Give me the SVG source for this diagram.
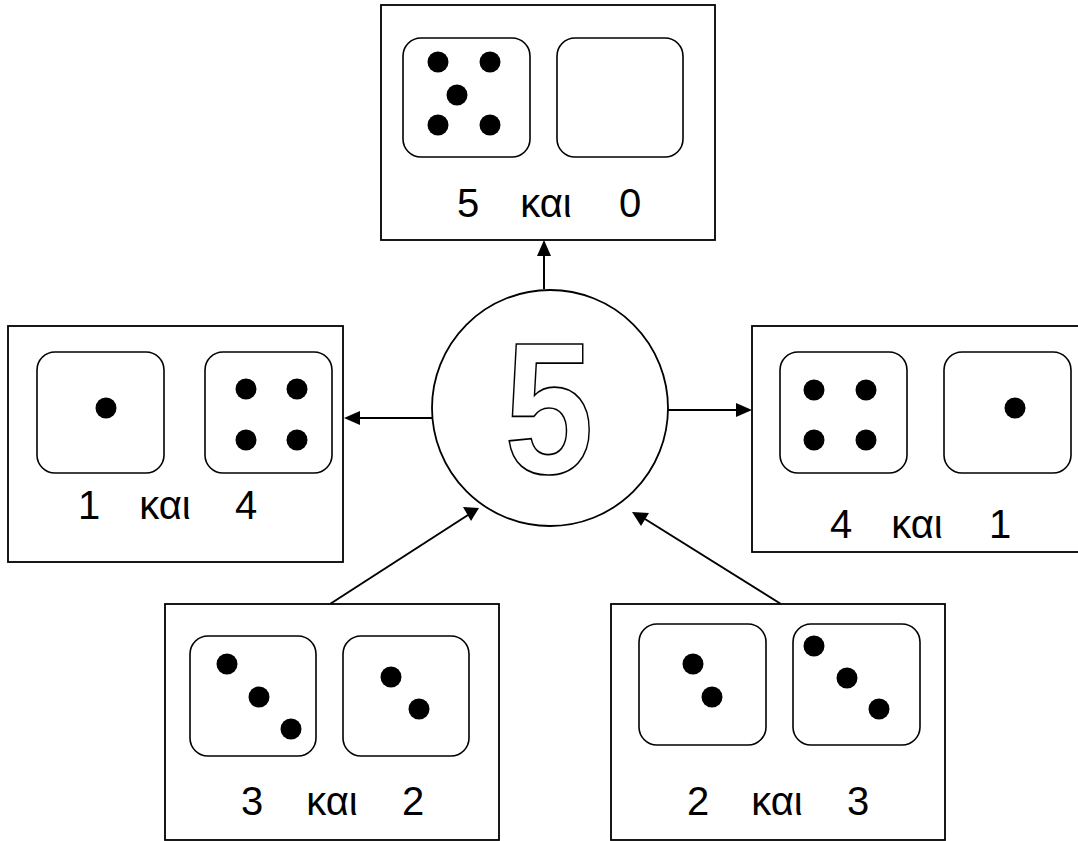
<svg xmlns="http://www.w3.org/2000/svg" width="1078" height="841" viewBox="0 0 1078 841">
<defs>
<style>
.box{fill:#fff;stroke:#000;stroke-width:1.8}
.die{fill:#fff;stroke:#000;stroke-width:1.6}
.dot{fill:#000}
.lbl{font-family:"Comic Sans MS","Liberation Sans","DejaVu Sans",sans-serif;font-size:40px;fill:#000;text-anchor:middle}
.con{stroke:#000;stroke-width:2;fill:none;marker-end:url(#ah)}
</style>
<marker id="ah" viewBox="0 0 10 10" refX="10" refY="5" markerWidth="7" markerHeight="7" markerUnits="userSpaceOnUse" orient="auto">
<path d="M0,0 L10,5 L0,10 z" fill="#000"/>
</marker>
</defs>
<rect width="1078" height="841" fill="#fff"/>

<g id="connectors">
<line class="con" x1="544" y1="289" x2="544" y2="242" style="marker-end:none"/>
<path d="M537,256 L544,240 L551,256 z" fill="#000"/>
<line x1="432" y1="418" x2="358" y2="418" stroke="#000" stroke-width="2"/>
<path d="M360,411 L344,418 L360,425 z" fill="#000"/>
<line x1="668" y1="410" x2="738" y2="410" stroke="#000" stroke-width="2"/>
<path d="M736,403 L752,410 L736,417 z" fill="#000"/>
<line x1="330" y1="604" x2="468" y2="515" stroke="#000" stroke-width="2"/>
<path d="M463,507 L479,508 L471,521 z" fill="#000"/>
<line x1="781" y1="604" x2="645" y2="519" stroke="#000" stroke-width="2"/>
<path d="M641,526 L632,512 L649,513 z" fill="#000"/>
</g>

<g id="center">
<circle cx="550" cy="408" r="118" fill="#fff" stroke="#000" stroke-width="1.8"/>
<text x="0" y="0" transform="translate(549,473) scale(0.86,1)" font-family="Liberation Sans, Arial, sans-serif" font-weight="bold" font-size="187" text-anchor="middle" fill="#fff" stroke="#000" stroke-width="1.7">5</text>
</g>

<g id="top">
<rect class="box" x="381" y="5" width="334" height="235"/>
<rect class="die" x="403" y="38" width="127" height="119" rx="18"/>
<rect class="die" x="557" y="38" width="126" height="119" rx="18"/>
<circle class="dot" cx="438" cy="62" r="10.5"/>
<circle class="dot" cx="490" cy="62" r="10.5"/>
<circle class="dot" cx="457" cy="95" r="10.5"/>
<circle class="dot" cx="438" cy="125" r="10.5"/>
<circle class="dot" cx="490" cy="125" r="10.5"/>
<text class="lbl" y="217"><tspan x="468">5</tspan><tspan x="546">και</tspan><tspan x="630">0</tspan></text>
</g>

<g id="left">
<rect class="box" x="8" y="326" width="335" height="236"/>
<rect class="die" x="37" y="352" width="127" height="121" rx="18"/>
<rect class="die" x="205" y="352" width="127" height="121" rx="18"/>
<circle class="dot" cx="106" cy="408" r="10.5"/>
<circle class="dot" cx="246" cy="389" r="10.5"/>
<circle class="dot" cx="297" cy="389" r="10.5"/>
<circle class="dot" cx="246" cy="440" r="10.5"/>
<circle class="dot" cx="297" cy="440" r="10.5"/>
<text class="lbl" y="519"><tspan x="89">1</tspan><tspan x="165">και</tspan><tspan x="246">4</tspan></text>
</g>

<g id="right">
<rect class="box" x="752" y="326" width="340" height="226"/>
<rect class="die" x="780" y="352" width="127" height="121" rx="18"/>
<rect class="die" x="944" y="352" width="127" height="121" rx="18"/>
<circle class="dot" cx="814" cy="390" r="10.5"/>
<circle class="dot" cx="866" cy="390" r="10.5"/>
<circle class="dot" cx="814" cy="440" r="10.5"/>
<circle class="dot" cx="866" cy="440" r="10.5"/>
<circle class="dot" cx="1015" cy="408" r="10.5"/>
<text class="lbl" y="538"><tspan x="841">4</tspan><tspan x="917">και</tspan><tspan x="1000">1</tspan></text>
</g>

<g id="bottom-left">
<rect class="box" x="165" y="604" width="334" height="236"/>
<rect class="die" x="190" y="636" width="126" height="120" rx="18"/>
<rect class="die" x="343" y="636" width="126" height="120" rx="18"/>
<circle class="dot" cx="227" cy="664" r="10.5"/>
<circle class="dot" cx="259" cy="697" r="10.5"/>
<circle class="dot" cx="291" cy="729" r="10.5"/>
<circle class="dot" cx="391" cy="677" r="10.5"/>
<circle class="dot" cx="419" cy="709" r="10.5"/>
<text class="lbl" y="815"><tspan x="252">3</tspan><tspan x="332">και</tspan><tspan x="413">2</tspan></text>
</g>

<g id="bottom-right">
<rect class="box" x="611" y="604" width="334" height="236"/>
<rect class="die" x="639" y="624" width="127" height="121" rx="18"/>
<rect class="die" x="793" y="624" width="127" height="121" rx="18"/>
<circle class="dot" cx="693" cy="664" r="10.5"/>
<circle class="dot" cx="712" cy="697" r="10.5"/>
<circle class="dot" cx="814" cy="646" r="10.5"/>
<circle class="dot" cx="847" cy="678" r="10.5"/>
<circle class="dot" cx="879" cy="709" r="10.5"/>
<text class="lbl" y="815"><tspan x="698">2</tspan><tspan x="777">και</tspan><tspan x="858">3</tspan></text>
</g>
</svg>
